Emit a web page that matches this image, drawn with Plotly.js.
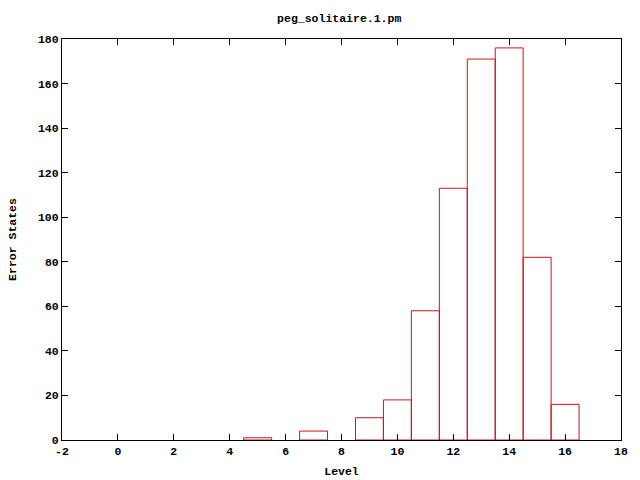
<!DOCTYPE html>
<html><head><meta charset="utf-8">
<script src="https://cdn.plot.ly/plotly-3.0.1.min.js"></script>
<style>html,body{margin:0;padding:0;background:#fff}#c{width:640px;height:480px}</style>
</head><body><div id="c"></div>
<script>
const levels = [5, 7, 9, 10, 11, 12, 13, 14, 15, 16];
const errorStates = [1, 4, 10, 18, 58, 113, 171, 176, 82, 16];
const xTicks = [-2, 0, 2, 4, 6, 8, 10, 12, 14, 16, 18];
const yTicks = [0, 20, 40, 60, 80, 100, 120, 140, 160, 180];

const font = {family: "Liberation Mono, DejaVu Sans Mono, monospace", size: 11, color: "#000"};
const axisCommon = {
  showgrid: false, zeroline: false, showline: true, linecolor: "#000", linewidth: 1,
  mirror: "ticks", ticks: "inside", ticklen: 6, tickcolor: "#000",
  tickfont: {family: font.family, size: 11.5, color: "#000", weight: "bold"}
};
Plotly.newPlot("c", [{
  type: "bar", x: levels, y: errorStates, width: 1,
  marker: {color: "rgba(255,255,255,0)", line: {color: "#cc1414", width: 1}},
  hoverinfo: "skip"
}], {
  width: 640, height: 480,
  margin: {l: 62, r: 19, t: 39, b: 40},
  paper_bgcolor: "#fff", plot_bgcolor: "#fff",
  font: font,
  showlegend: false,
  title: {text: "peg_solitaire.1.pm", font: {family: font.family, size: 11.5, weight: "bold"}, x: 0.53, xanchor: "center", y: 0.962, yanchor: "middle"},
  xaxis: Object.assign({}, axisCommon, {range: [-2, 18], tickvals: xTicks, ticktext: xTicks.map(String),
    title: {text: "Level", font: {family: font.family, size: 11.5, weight: "bold"}, standoff: 10}}),
  yaxis: Object.assign({}, axisCommon, {range: [0, 180], tickvals: yTicks, ticktext: yTicks.map(String),
    title: {text: "Error States", font: {family: font.family, size: 11.5, weight: "bold"}, standoff: 18}})
}, {displayModeBar: false, staticPlot: true});
</script></body></html>
